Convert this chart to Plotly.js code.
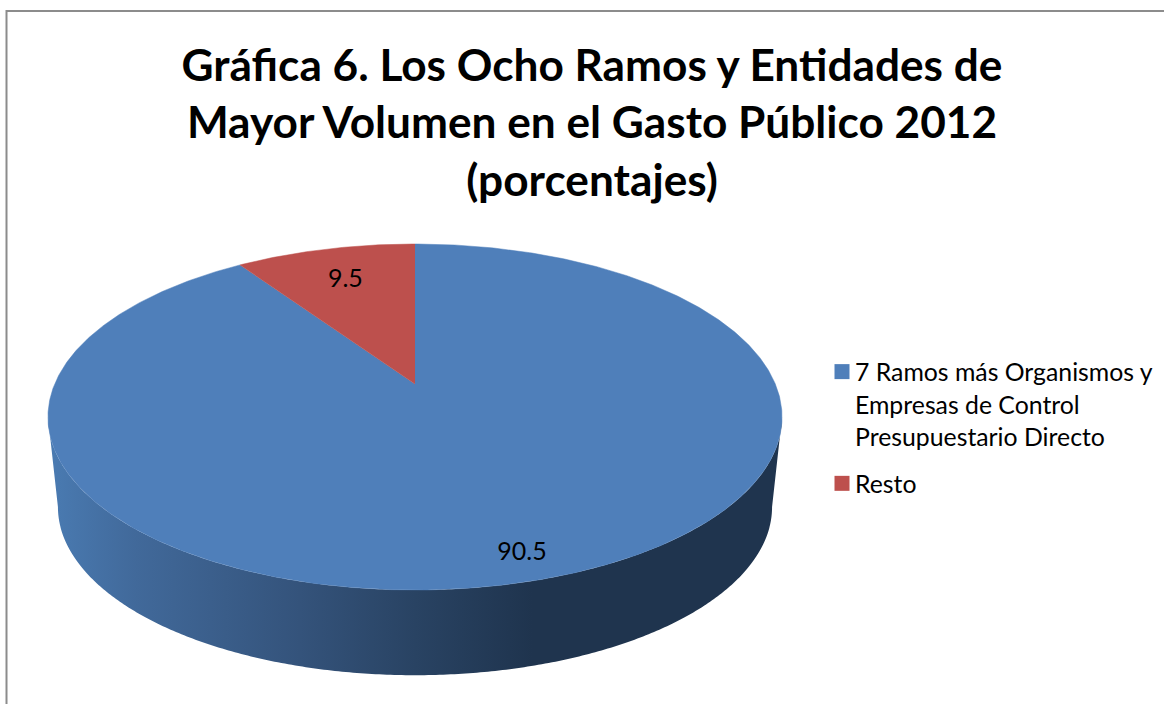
<!DOCTYPE html>
<html lang="es">
<head>
<meta charset="utf-8">
<script src="https://cdn.plot.ly/plotly-3.0.1.min.js"></script>
<style>html,body{margin:0;padding:0;background:#fff}#chart{width:1164px;height:704px}</style>
</head>
<body>
<div id="chart"></div>
<script>
// Datos de la gráfica
const categories = ["7 Ramos más Organismos y<br>Empresas de Control<br>Presupuestario Directo", "Resto"];
const shares = [90.5, 9.5];
const sliceColors = ["#4f7fba", "#bd504d"];
const titleText = "Gráfica 6. Los Ocho Ramos y Entidades de<br>Mayor Volumen en el Gasto Público 2012<br>(porcentajes)";

// Proyección en perspectiva del disco: ángulo en grados, horario desde el fondo
const tilt = 0.1908;
const topRim = {cx: 415, cy: 384, sx: 360.3, sy: 166.7};
const bottomRim = {cx: 415, cy: 475, sx: 350.5, sy: 162};

function project(deg, r, rim) {
  const t = deg * Math.PI / 180;
  const dx = r * Math.sin(t), dy = r * Math.cos(t);
  const w = 1 + tilt * dy;
  return [rim.cx + rim.sx * dx / w, rim.cy - rim.sy * dy / w];
}

function arc(from, to, rim) {
  const pts = [];
  const steps = Math.max(2, Math.ceil(Math.abs(to - from) * 2));
  for (let i = 0; i <= steps; i++) pts.push(project(from + (to - from) * i / steps, 1, rim));
  return pts;
}

function polygon(pts) {
  return {x: pts.map(p => p[0]), y: pts.map(p => p[1])};
}

const total = shares.reduce((a, b) => a + b, 0);
const traces = [];

// Pared lateral visible del disco
const limb = Math.acos(-tilt) * 180 / Math.PI;
const wall = polygon(arc(limb, 360 - limb, topRim).concat(arc(360 - limb, limb, bottomRim)));
traces.push({
  type: "scatter", mode: "none", x: wall.x, y: wall.y, fill: "toself",
  fillgradient: {type: "horizontal", colorscale: [
    [0, "#4a7bb2"], [0.12, "#41699a"], [0.343, "#34537b"], [0.5, "#294363"], [0.66, "#1f344e"], [1, "#1f344e"]
  ]},
  showlegend: false, hoverinfo: "skip"
});

// Cara superior: un sector por categoría
const labelRadius = [0.88, 0.746];
const labelNudgeX = [-4, 0];
const labelNudgeY = [3, 1];
const labelX = [], labelY = [];
let start = 0;
shares.forEach((v, i) => {
  const sweep = v / total * 360;
  const s = polygon([[topRim.cx, topRim.cy]].concat(arc(start, start + sweep, topRim)));
  traces.push({
    type: "scatter", mode: "lines", x: s.x, y: s.y, fill: "toself", fillcolor: sliceColors[i],
    line: {color: sliceColors[i], width: 0.5}, showlegend: false, hoverinfo: "skip"
  });
  const lp = project(start + sweep / 2, labelRadius[i], topRim);
  labelX.push(lp[0] + labelNudgeX[i]);
  labelY.push(lp[1] + labelNudgeY[i]);
  start += sweep;
});

// Etiquetas de valor
traces.push({
  type: "scatter", mode: "text", x: labelX, y: labelY, text: shares.map(v => v.toFixed(1)),
  textposition: "middle center", textfont: {family: "Lato, sans-serif", size: 25, color: "#000"},
  showlegend: false, hoverinfo: "skip"
});

// Entradas de la leyenda
categories.forEach((c, i) => {
  traces.push({
    type: "scatter", mode: "markers", x: [null], y: [null], name: c, legendgroup: "g" + i,
    marker: {symbol: "square", size: 15, color: sliceColors[i]}
  });
});

const legendSize = 24.8;
const layout = {
  width: 1164, height: 704,
  margin: {l: 0, r: 0, t: 0, b: 0},
  paper_bgcolor: "#fff", plot_bgcolor: "#fff",
  font: {family: "Lato, sans-serif", color: "#000"},
  title: {
    text: titleText, x: 592 / 1164, xanchor: "center", y: 0.885, yanchor: "middle",
    font: {family: "Lato, sans-serif", size: 44.2, weight: 700, color: "#000"}
  },
  xaxis: {range: [0, 1164], visible: false, fixedrange: true},
  yaxis: {range: [704, 0], visible: false, fixedrange: true},
  showlegend: true,
  legend: {
    x: 815 / 1164, y: 1 - 349 / 704, xanchor: "left", yanchor: "top",
    font: {family: "Lato, sans-serif", size: legendSize, color: "#000"},
    bgcolor: "rgba(0,0,0,0)", borderwidth: 0, tracegroupgap: 12, itemwidth: 30, itemclick: false, itemdoubleclick: false
  },
  shapes: [{
    type: "rect", xref: "x", yref: "y", x0: 6.5, y0: 11, x1: 1170, y1: 710,
    line: {color: "#8c8c8c", width: 2}, fillcolor: "rgba(0,0,0,0)", layer: "below"
  }]
};

Plotly.newPlot("chart", traces, layout, {displayModeBar: false, staticPlot: true}).then(() => {
  // Acerca el cuadro de color al texto y lo alinea con la primera línea de cada entrada
  document.querySelectorAll("#chart .legendpoints").forEach((g, i) => {
    const extraLines = categories[i].split("<br>").length - 1;
    g.setAttribute("transform", "translate(7," + (-extraLines / 2 * legendSize * 1.3) + ")");
  });
});
</script>
</body>
</html>
